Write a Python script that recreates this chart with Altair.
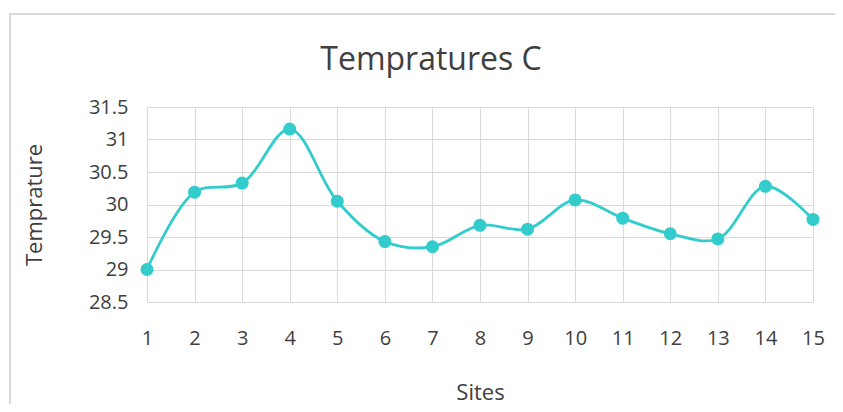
import altair as alt
import pandas as pd

sites = list(range(1, 16))
temps = [29.0, 30.19, 30.33, 31.16, 30.05, 29.43, 29.35, 29.68, 29.62, 30.07, 29.79, 29.55, 29.47, 30.28, 29.77]
y_ticks = [28.5, 29, 29.5, 30, 30.5, 31, 31.5]

df = pd.DataFrame({"Sites": sites, "Temprature": temps})

FONT = "Open Sans"
TEAL = "#33CCCC"
GRID = "#d9d9d9"
TXT = "#404040"

x_enc = alt.X(
    "Sites:Q",
    scale=alt.Scale(domain=[1, 15], nice=False, zero=False),
    axis=alt.Axis(
        values=sites, title="Sites", format="d", grid=True, gridColor=GRID,
        domainColor=GRID, ticks=False, labelPadding=26, labelFontSize=20,
        labelFont=FONT, labelColor=TXT, titleFont=FONT, titleFontSize=22,
        titleFontWeight="normal", titleColor=TXT, titleBaseline="alphabetic",
        titleY=97, labelFlush=False, labelOverlap=False,
    ),
)
y_enc = alt.Y(
    "Temprature:Q",
    scale=alt.Scale(domain=[28.5, 31.5], nice=False, zero=False),
    axis=alt.Axis(
        values=y_ticks, title="Temprature", format="~f", grid=True, gridColor=GRID,
        domainColor=GRID, ticks=False, labelPadding=19, labelFontSize=20,
        labelFont=FONT, labelColor=TXT, titleFont=FONT, titleFontSize=22,
        titleFontWeight="normal", titleColor=TXT, titleBaseline="alphabetic",
        titleAlign="center", titleAngle=270, titleX=-106, titleY=97.5,
        labelFlush=False, labelOverlap=False,
    ),
)

border = alt.Chart(df).mark_rect(
    fill=None, stroke=GRID, strokeWidth=1.5, clip=False
).encode(
    x=alt.value(-137), x2=alt.value(900), y=alt.value(-93), y2=alt.value(500)
)

line = alt.Chart(df).mark_line(
    color=TEAL, strokeWidth=2.8, interpolate="catmull-rom"
).encode(x=x_enc, y=y_enc)

points = alt.Chart(df).mark_circle(
    color=TEAL, opacity=1, size=170
).encode(x=x_enc, y=y_enc)

chart = alt.layer(border, line, points).properties(
    width=666,
    height=195,
    title=alt.TitleParams(
        "Tempratures C", font=FONT, fontSize=32, fontWeight="normal",
        color=TXT, anchor="middle", frame="group", baseline="alphabetic",
        offset=35, dx=-49, dy=124,
    ),
    autosize=alt.AutoSizeParams(type="none"),
    padding={"left": 139, "top": 99, "right": 22, "bottom": 102},
).configure_view(stroke=None).configure(background="white")

chart.save("out.html", embed_options={"renderer": "svg", "actions": False})
